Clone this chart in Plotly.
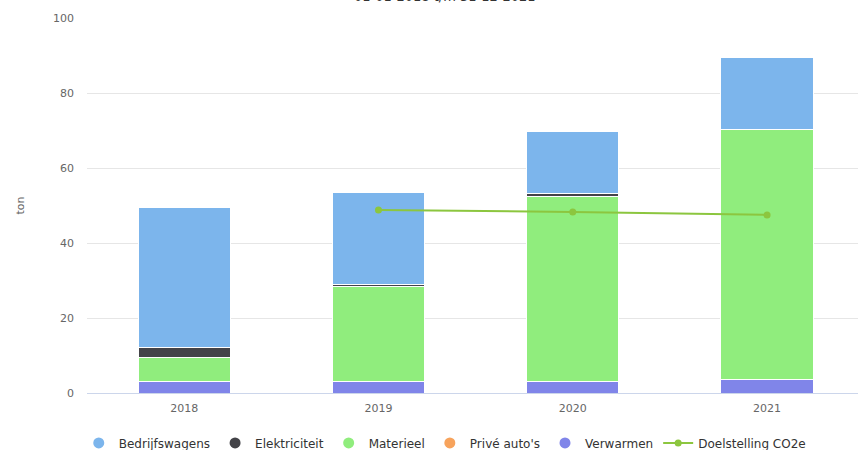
import plotly.graph_objects as go

years = ["2018", "2019", "2020", "2021"]
verwarmen = [3.0, 3.1, 3.0, 3.6]
materieel = [6.4, 25.2, 49.3, 66.7]
prive_autos = [0, 0, 0, 0]
elektriciteit = [2.7, 0.6, 0.8, 0.1]
bedrijfswagens = [37.4, 24.6, 16.7, 19.1]
doel_years = ["2019", "2020", "2021"]
doelstelling = [48.8, 48.3, 47.5]
title_text = "01-01-2018 t/m 31-12-2021"

colors = {
    "Bedrijfswagens": "#7cb5ec",
    "Elektriciteit": "#434348",
    "Materieel": "#90ed7d",
    "Privé auto's": "#f7a35c",
    "Verwarmen": "#8085e9",
}
line_color = "#8cc63f"

fig = go.Figure()
xi = list(range(len(years)))
stack = [("Verwarmen", verwarmen), ("Materieel", materieel), ("Privé auto's", prive_autos),
         ("Elektriciteit", elektriciteit), ("Bedrijfswagens", bedrijfswagens)]
for name, vals in stack:
    fig.add_trace(go.Bar(x=xi, y=vals, name=name, width=0.475,
                         marker=dict(color=colors[name], line=dict(color="white", width=1)),
                         showlegend=False))

# legend entries (circle symbols)
for name in ["Bedrijfswagens", "Elektriciteit", "Materieel", "Privé auto's", "Verwarmen"]:
    fig.add_trace(go.Scatter(x=[None], y=[None], mode="markers", name=name,
                             marker=dict(color=colors[name], size=11, symbol="circle")))

dx = [years.index(y) for y in doel_years]
fig.add_trace(go.Scatter(x=dx, y=doelstelling, mode="lines+markers", name="Doelstelling CO2e",
                         line=dict(color=line_color, width=2),
                         marker=dict(color=line_color, size=7)))

fig.add_annotation(text=title_text, xref="paper", yref="paper", x=0.464, y=1.056,
                   xanchor="center", yanchor="middle", showarrow=False,
                   font=dict(size=13, color="#333333"))

fig.update_layout(
    width=858, height=450,
    margin=dict(l=87, r=0, t=18, b=57, autoexpand=False),
    barmode="stack",
    plot_bgcolor="white", paper_bgcolor="white",
    font=dict(family="DejaVu Sans", size=11, color="#666666"),
    legend=dict(orientation="h", x=0.464, xanchor="center", y=-0.133, yanchor="middle",
                traceorder="normal",
                font=dict(size=12, color="#333333"), itemclick=False),
    xaxis=dict(range=[-0.5, 3.468], tickvals=xi, ticktext=years, showgrid=False,
               showline=True, linecolor="#ccd6eb", linewidth=1, ticks="",
               tickfont=dict(size=11, color="#666666"), zeroline=False, automargin=False,
               ticklabelstandoff=5),
    yaxis=dict(range=[0, 100], dtick=20, gridcolor="#e6e6e6", showline=False,
               zeroline=False, tickfont=dict(size=11, color="#666666"), automargin=False,
               title=dict(text="ton", font=dict(size=11, color="#666666"), standoff=26),
               ticklabelstandoff=12),
)

fig.write_html("out.html", config={"displayModeBar": False},
               post_script="document.body.style.margin='0';")
